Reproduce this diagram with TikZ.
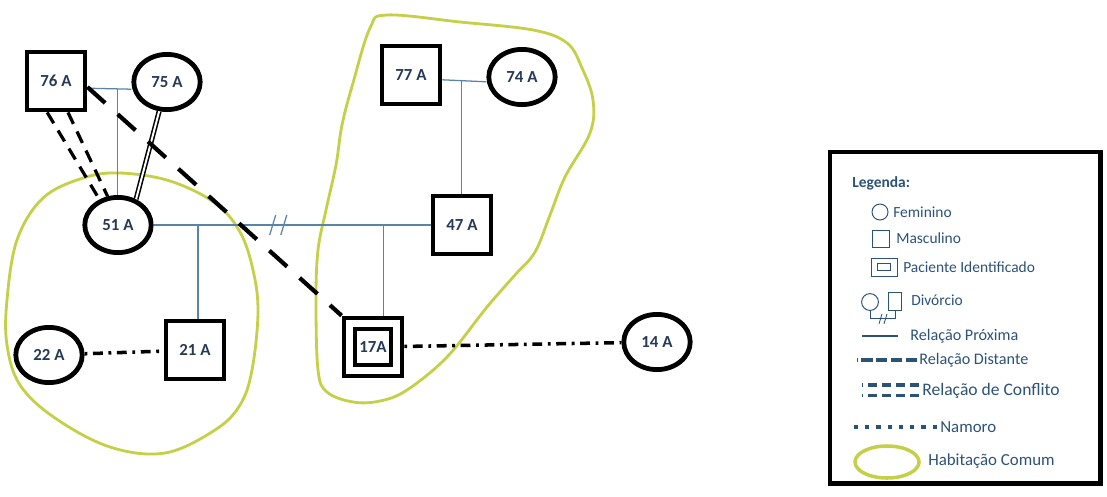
\documentclass[tikz,border=0pt]{standalone}
\usepackage{fontspec}
\setmainfont{Carlito}
\usepackage{tikz}
\usetikzlibrary{positioning, shapes.geometric, calc}
\definecolor{ink}{RGB}{38,58,86}
\definecolor{tie}{RGB}{88,132,168}
\definecolor{home}{RGB}{196,208,72}
\definecolor{legink}{RGB}{44,82,118}

\begin{document}
\begin{tikzpicture}[x=0.025cm, y=-0.025cm,
  fem/.style={draw, ellipse, line width=3.4pt, minimum width=1.66cm, minimum height=1.38cm, inner sep=0pt, font=\fontsize{12}{14}\selectfont\bfseries, text=ink},
  masc/.style={draw, rectangle, line width=3.4pt, minimum size=1.45cm, inner sep=0pt, font=\fontsize{12}{14}\selectfont\bfseries, text=ink},
  pac/.style={masc, line width=2.2pt, minimum size=0.9cm},
  prox/.style={tie, line width=0.9pt},
  dist/.style={line width=3pt, dash pattern=on 17pt off 12pt},
  conf/.style={line width=2.3pt, dash pattern=on 9pt off 6pt},
  dating/.style={line width=2.5pt, dash pattern=on 2pt off 4pt on 7pt off 4pt},
  house/.style={home, line width=2pt},
  leg/.style={anchor=west, inner sep=0pt, text=legink, font=\fontsize{11}{13}\selectfont},
  legsym/.style={draw=legink, line width=0.7pt, inner sep=0pt}]
\useasboundingbox (0,0) rectangle (1107,496);
\draw[house] plot[smooth cycle, tension=0.6] coordinates {(7,300) (17,240) (43,198) (83,178) (120,173) (170,181) (215,203) (240,232) (253,270) (258,312) (252,370) (240,405) (215,430) (165,453) (110,447) (55,418) (20,385) (7,345)};
\draw[house] plot[smooth cycle, tension=0.6] coordinates {(387,15) (460,22) (533,30) (567,43) (582,68) (593,100) (590,133) (565,177) (550,215) (535,252) (515,275) (487,307) (447,357) (407,390) (380,401) (353,402) (327,392) (318,370) (316,300) (318,250) (326,210) (336,165) (342,125) (353,83) (370,28)};
\node[masc] (p76) at (56,81) {76 A};
\node[fem] (p75) at (167,82) {75 A};
\node[fem] (p51) at (118,225) {51 A};
\node[masc] (p77) at (411,75) {77 A};
\node[fem] (p74) at (522,77) {74 A};
\node[masc] (p47) at (462,225) {47 A};
\node[fem] (p22) at (49,355) {22 A};
\node[masc] (p21) at (195,350) {21 A};
\node[masc] (p17) at (373,347) {};
\node[pac] (p17i) at (p17) {17A};
\node[fem] (p14) at (657,342) {14 A};
\draw[prox] ([yshift=-0.18cm]p76.east) -- coordinate[pos=0.69] (m76) ([yshift=-0.18cm]p75.west);
\draw[prox] (m76) -- (m76 |- p51.north);
\draw[prox] (p51.east) -- coordinate[pos=0.16] (m51a) coordinate[pos=0.43] (dv1) coordinate[pos=0.47] (dv2) coordinate[pos=0.83] (m51b) (p47.west);
\draw[prox] (dv1) +(-3,10) -- +(3,-10);
\draw[prox] (dv2) +(-3,10) -- +(3,-10);
\draw[prox] (m51a) -- (m51a |- p21.north);
\draw[prox] (m51b) -- (m51b |- p17.north);
\draw[prox] ([yshift=-0.12cm]p77.east) -- coordinate[pos=0.44] (m77) ([yshift=-0.12cm]p74.west);
\draw[prox] (m77) -- (m77 |- p47.north);
\draw[conf] ([xshift=-0.22cm]p76.south) -- (p51.126);
\draw[conf] ([xshift=0.3cm]p76.south) -- (p51.110);
\draw[double, line width=1.1pt, double distance=1.4pt] (p75.255) -- (p51.55);
\draw[dist] ([yshift=-0.15cm]p76.east) -- (p17.north west);
\draw[dating] (p22) -- (p21);
\draw[dating] (p17) -- (p14);
\node[draw, line width=3.5pt, minimum width=6.75cm, minimum height=8.275cm] (legbox) at (965,317.5) {};
\node[leg, font=\fontsize{11}{13}\selectfont\bfseries] (lgtitle) at (852,183) {Legenda:};
\node[leg] (lfem) at (893,212) {Feminino};
\node[leg] (lmasc) at (896,238) {Masculino};
\node[leg] (lpac) at (903,267) {Paciente Identificado};
\node[leg] (ldiv) at (911,300) {Divórcio};
\node[leg, font=\fontsize{11.5}{13}\selectfont] (lprox) at (910,336) {Relação Próxima};
\node[leg, font=\fontsize{11.5}{13}\selectfont] (ldist) at (919,360) {Relação Distante};
\node[leg, font=\fontsize{12.5}{14}\selectfont] (lconf) at (922,391) {Relação de Conflito};
\node[leg, font=\fontsize{12}{14}\selectfont] (lnam) at (940,427) {Namoro};
\node[leg, font=\fontsize{12}{14}\selectfont] (lhab) at (928,461) {Habitação Comum};
\node[legsym, circle, minimum size=0.4cm] (sfem) at (880,212) {};
\node[legsym, minimum size=0.42cm] (smasc) at (881,239) {};
\node[legsym, minimum width=0.65cm, minimum height=0.45cm] (spac) at (884,267) {};
\node[legsym, minimum width=0.33cm, minimum height=0.18cm] (spacin) at (spac) {};
\node[legsym, circle, minimum size=0.42cm] (sdc) at (870,302) {};
\node[legsym, minimum width=0.32cm, minimum height=0.45cm] (sds) at (895,301) {};
\draw[legink, line width=0.7pt] (sdc.south) -- ++(0,8) coordinate (dvb) -| (sds.south);
\draw[legink, line width=0.6pt] (dvb) ++(9,5) -- ++(3,-10) ++(2,10) -- ++(3,-10);
\draw[legink, line width=2pt] ([xshift=-0.3cm]lprox.west) -- ++(-36,0);
\draw[legink, line width=3pt, dash pattern=on 8pt off 2.5pt] ([xshift=-0.05cm]ldist.west) -- ++(-60,0);
\draw[legink, line width=2.3pt, dash pattern=on 6pt off 4pt] ([xshift=-0.08cm, yshift=0.15cm]lconf.west) -- ++(-57,0);
\draw[legink, line width=2.3pt, dash pattern=on 6pt off 4pt] ([xshift=-0.08cm, yshift=-0.12cm]lconf.west) -- ++(-57,0);
\draw[legink, line width=2.3pt, dash pattern=on 3pt off 5pt] ([xshift=-0.08cm]lnam.west) -- ++(-84,0);
\node[draw=home, ellipse, line width=2.5pt, minimum width=1.6cm, minimum height=0.8cm] (shab) at (887,462) {};
\end{tikzpicture}
\end{document}
